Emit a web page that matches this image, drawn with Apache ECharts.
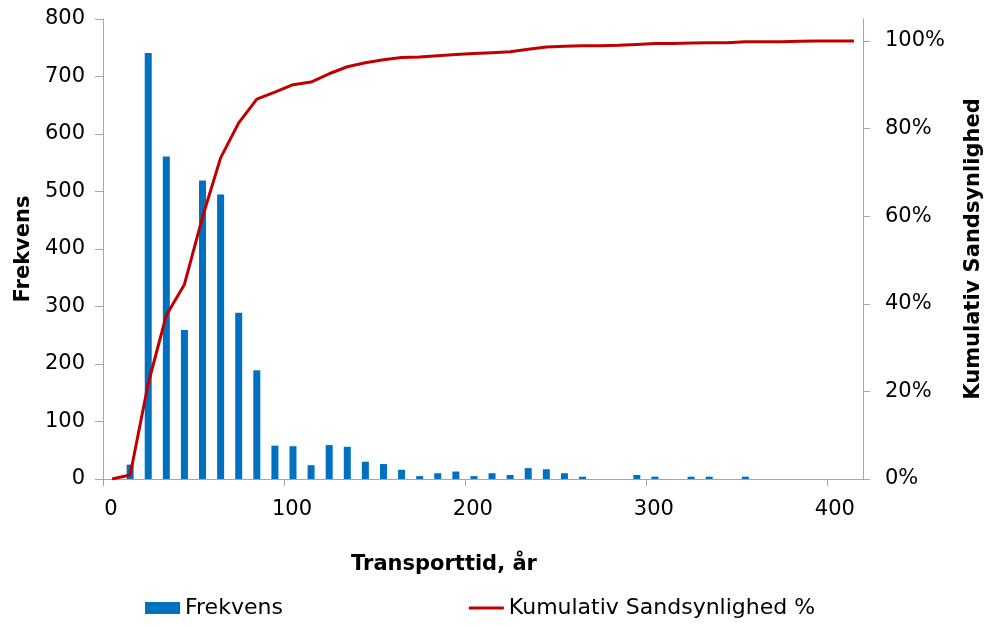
<!DOCTYPE html>
<html>
<head>
<meta charset="utf-8">
<style>html,body{margin:0;padding:0;background:#fff}#c{width:998px;height:626px}</style>
<script src="https://cdn.jsdelivr.net/npm/echarts@6/dist/echarts.min.js"></script>
</head>
<body>
<div id="c"></div>
<script>
// Bin centres (Transporttid, år)
const binCenters = [5,15,25,35,45,55,65,75,85,95,105,115,125,135,145,155,165,175,185,195,205,215,225,235,245,255,265,275,285,295,305,315,325,335,345,355,365,375,385,395,405,415];
// Frekvens per bin
const frequencies = [0,25,741,561,259,519,495,289,189,58,57,24,59,56,30,26,16,5,10,13,5,10,7,19,17,10,4,0,0,7,4,0,4,4,0,4,0,0,0,0,0,0];
// Kumulativ Sandsynlighed (%)
const cumulativePct = [0,0.9,21.8,37.4,44.4,59.8,73.3,81.3,86.7,88.3,90.0,90.6,92.5,94.1,95.0,95.7,96.2,96.3,96.6,96.9,97.1,97.3,97.5,98.1,98.6,98.8,98.9,98.9,99.0,99.2,99.4,99.4,99.5,99.6,99.6,99.8,99.8,99.8,99.9,100,100,100];
const xTicks = [0,100,200,300,400];
const yLeftTicks = [0,100,200,300,400,500,600,700,800];
const yRightTicks = [0,20,40,60,80,100];

const FONT = 'DejaVu Sans';
const axisColor = '#A6A6A6';

const chart = echarts.init(document.getElementById('c'), null, {renderer: 'canvas'});
chart.setOption({
  animation: false,
  backgroundColor: '#fff',
  textStyle: {fontFamily: FONT, color: '#000'},
  grid: {left: 103, right: 135, top: 19, bottom: 147, containLabel: false},
  legend: {
    left: 145, top: 597, padding: 0,
    itemWidth: 35, itemHeight: 12, itemGap: 186,
    textStyle: {fontFamily: FONT, fontSize: 22, color: '#000'},
    data: [
      {name: 'Frekvens', icon: 'rect'},
      {name: 'Kumulativ Sandsynlighed %', icon: 'path://M0,0 L37,0 L37,3 L0,3 Z'}
    ]
  },
  xAxis: {
    type: 'value', min: 0, max: 420, interval: 100,
    name: 'Transporttid, år', nameLocation: 'middle', nameGap: 75,
    nameTextStyle: {fontFamily: FONT, fontSize: 21, fontWeight: 'bold', color: '#000', padding: [0, 78, 0, 0]},
    axisLine: {show: true, lineStyle: {color: axisColor, width: 1}},
    axisTick: {show: true, length: 7, lineStyle: {color: axisColor}, customValues: xTicks},
    axisLabel: {fontFamily: FONT, fontSize: 21, color: '#000', margin: 20, padding: [0,0,0,16], customValues: xTicks},
    splitLine: {show: false}
  },
  yAxis: [{
    type: 'value', min: 0, max: 800, interval: 100, position: 'left',
    name: 'Frekvens', nameLocation: 'middle', nameGap: 61, nameRotate: 90,
    nameTextStyle: {fontFamily: FONT, fontSize: 21, fontWeight: 'bold', color: '#000'},
    axisLine: {show: true, lineStyle: {color: axisColor, width: 1}},
    axisTick: {show: true, length: 8, lineStyle: {color: axisColor}, customValues: yLeftTicks},
    axisLabel: {fontFamily: FONT, fontSize: 21, color: '#000', margin: 18, customValues: yLeftTicks},
    splitLine: {show: false}
  }, {
    type: 'value', min: 0, max: 105, interval: 20, position: 'right',
    name: 'Kumulativ Sandsynlighed', nameLocation: 'middle', nameGap: 100, nameRotate: 90,
    nameTextStyle: {fontFamily: FONT, fontSize: 21, fontWeight: 'bold', color: '#000'},
    axisLine: {show: true, lineStyle: {color: axisColor, width: 1}},
    axisTick: {show: true, length: 7, lineStyle: {color: axisColor}, customValues: yRightTicks},
    axisLabel: {fontFamily: FONT, fontSize: 21, color: '#000', margin: 22, formatter: '{value}%', customValues: yRightTicks},
    splitLine: {show: false}
  }],
  series: [{
    name: 'Frekvens', type: 'bar', yAxisIndex: 0,
    barWidth: 7,
    itemStyle: {color: '#0070C0'},
    data: binCenters.map((x, i) => [x, frequencies[i]])
  }, {
    name: 'Kumulativ Sandsynlighed %', type: 'line', yAxisIndex: 1,
    symbol: 'none', smooth: false,
    lineStyle: {color: '#C00000', width: 3},
    itemStyle: {color: '#C00000'},
    data: binCenters.map((x, i) => [x, cumulativePct[i]])
  }]
});
</script>
</body>
</html>
